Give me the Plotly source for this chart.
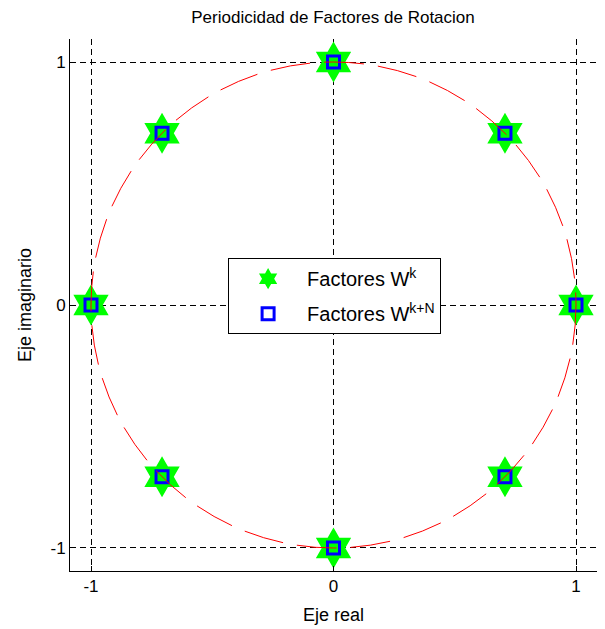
import plotly.graph_objects as go

# Factores de rotacion W^k (parte real / imaginaria)
wk_real = [1.0, 0.7071, 0.0, -0.7071, -1.0, -0.7071, 0.0, 0.7071]
wk_imag = [0.0, 0.7071, 1.0, 0.7071, 0.0, -0.7071, -1.0, -0.7071]
# Factores W^(k+N)
wkn_real = [1.0, 0.7071, 0.0, -0.7071, -1.0, -0.7071, 0.0, 0.7071]
wkn_imag = [0.0, 0.7071, 1.0, 0.7071, 0.0, -0.7071, -1.0, -0.7071]

tick_vals = [-1, 0, 1]
tick_text = ["-1", "0", "1"]

FONT = "Liberation Sans, Arial, sans-serif"

# page body has an 8px margin, so figure is 8px smaller than the window
W, H = 597, 621

fig = go.Figure()
fig.add_trace(go.Scatter(
    x=wk_real, y=wk_imag, mode="markers", name="Factores W<sup>k</sup>",
    legendgroup="a",
    marker=dict(symbol="hexagram", size=31, color="#00ff00", line=dict(width=0)),
))
fig.add_trace(go.Scatter(
    x=wkn_real, y=wkn_imag, mode="markers", name="Factores W<sup>k+N</sup>",
    legendgroup="b",
    marker=dict(symbol="square-open", size=12, color="#0000ff", line=dict(width=3, color="#0000ff")),
))

# unit circle (dashed red) drawn above markers
fig.add_shape(type="circle", xref="x", yref="y", x0=-1, y0=-1, x1=1, y1=1,
              line=dict(color="#ff0000", width=1, dash="40px,14px"), layer="above")

axis_common = dict(
    tickvals=tick_vals, ticktext=tick_text,
    showgrid=True, gridcolor="black", gridwidth=1, griddash="6px,4px",
    zeroline=False, showline=True, linecolor="black", linewidth=1, mirror=False,
    ticks="inside", ticklen=5, tickcolor="black",
    tickfont=dict(family=FONT, size=17, color="black"),
    automargin=False,
)

fig.update_layout(
    width=W, height=H,
    margin=dict(l=62, r=8, t=31, b=58),
    paper_bgcolor="white", plot_bgcolor="white",
    title=dict(text="Periodicidad de Factores de Rotacion", x=325 / W,
               xanchor="center", y=1 - 9 / H, yanchor="middle",
               font=dict(family=FONT, size=17, color="black")),
    xaxis=dict(range=[-1.0866, 1.0866],
               title=dict(text="Eje real", font=dict(family=FONT, size=18, color="black"), standoff=12),
               **axis_common),
    yaxis=dict(range=[-1.0947, 1.0947],
               title=dict(text="Eje imaginario", font=dict(family=FONT, size=18, color="black"), standoff=14),
               **axis_common),
    legend=dict(x=0.30, y=0.588, xanchor="left", yanchor="top",
                bgcolor="white", bordercolor="black", borderwidth=1,
                font=dict(family=FONT, size=20, color="black"),
                itemsizing="trace", itemwidth=68, tracegroupgap=6),
    showlegend=True,
)

fig.write_html("out.html")
